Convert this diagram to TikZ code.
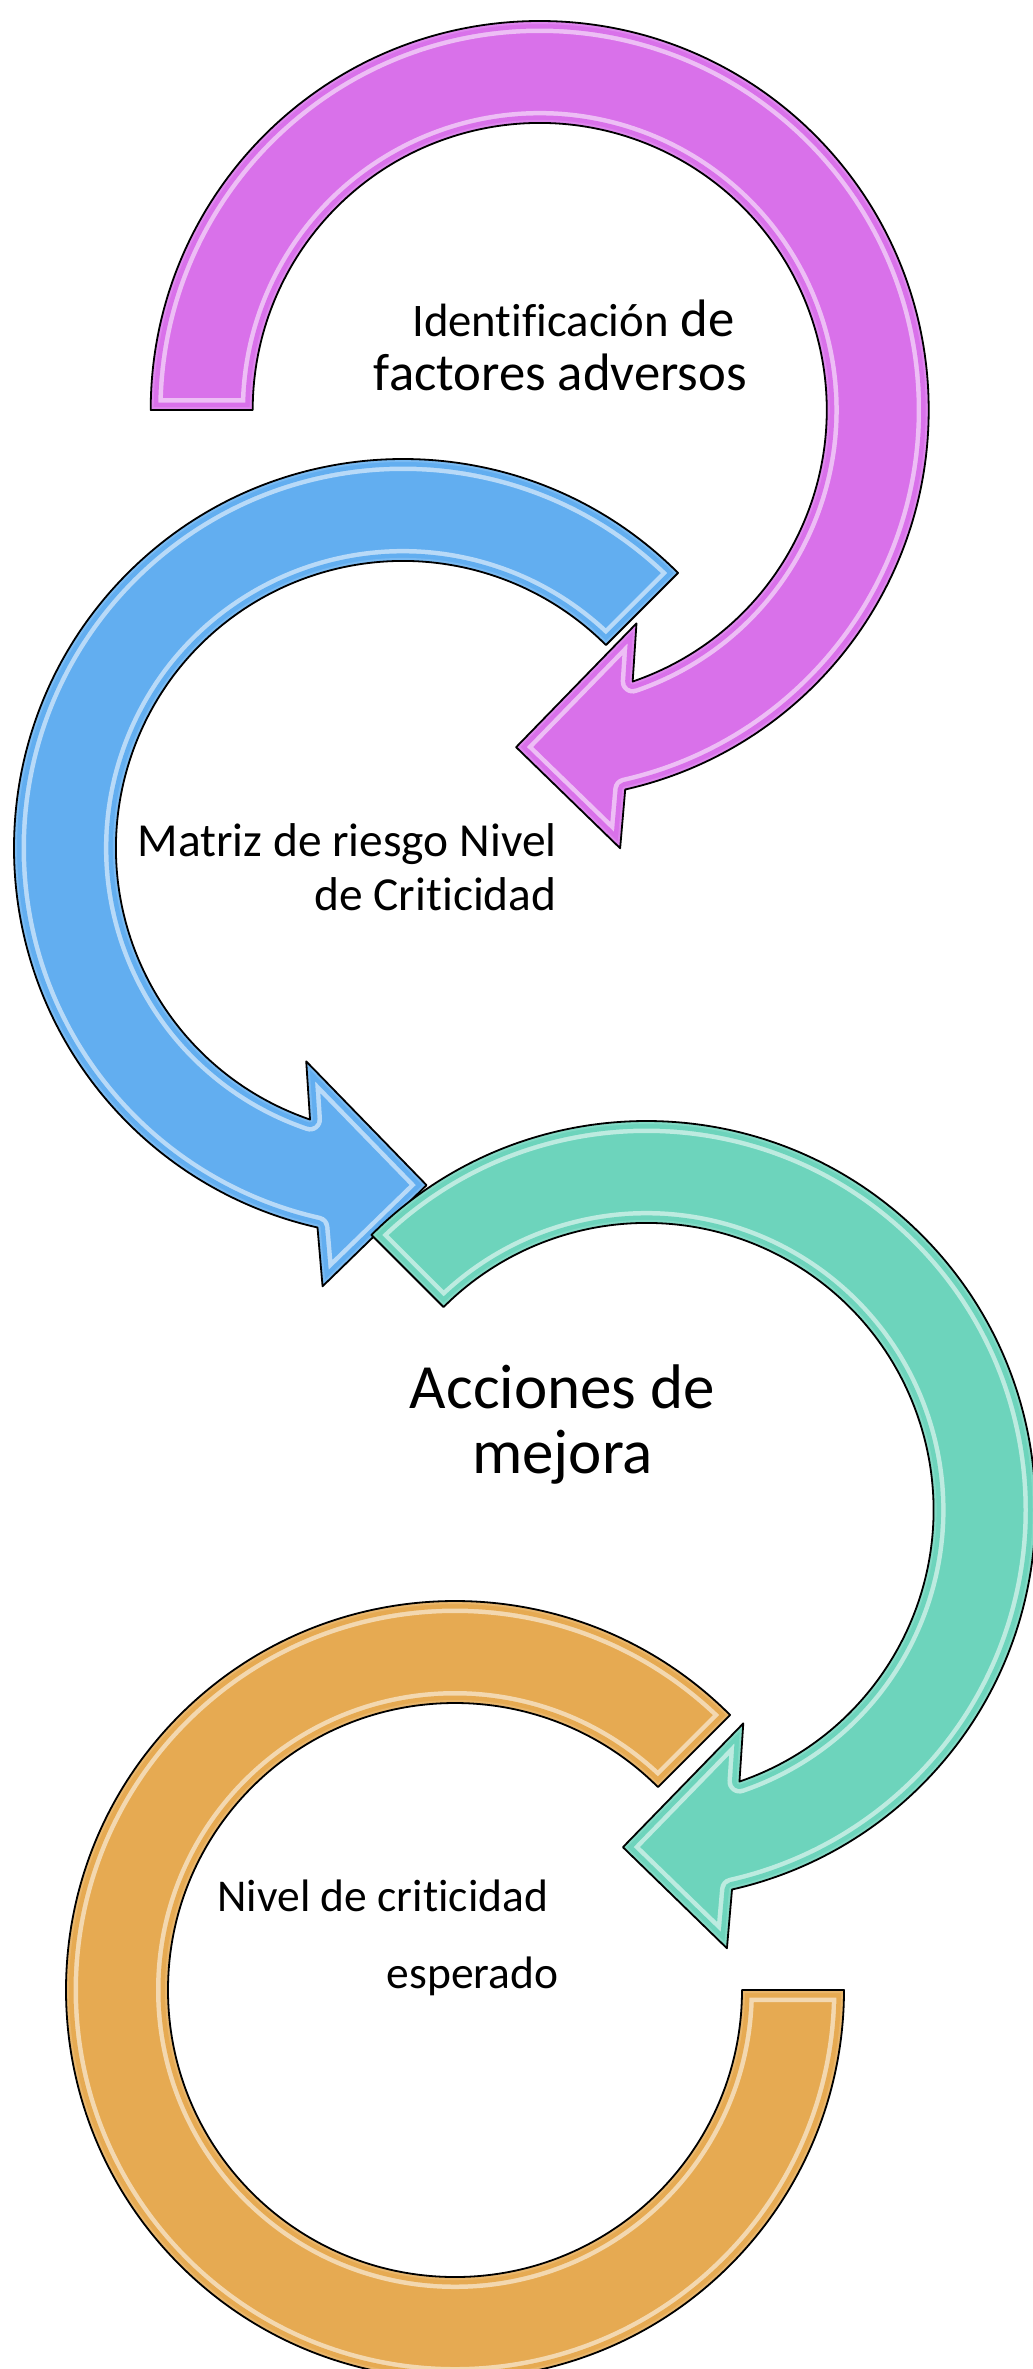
\documentclass[tikz,border=0pt]{standalone}
\usepackage{fontspec}
\setmainfont{Carlito}[Ligatures={NoCommon}]
\usetikzlibrary{calc}
\definecolor{cpurple}{RGB}{217,113,234}
\definecolor{cblue}{RGB}{98,174,240}
\definecolor{cgreen}{RGB}{109,212,188}
\definecolor{corange}{RGB}{230,170,82}
\newcommand\glossyshape[2]{%
  \fill[#2] #1;
  \begin{scope}
    \clip #1;
    \draw[white, opacity=0.55, line width=24pt, line join=round] #1;
    \draw[#2, line width=15pt, line join=round] #1;
    \draw[white, opacity=0.15, line width=6pt, line join=round] #1;
  \end{scope}
  \draw[black, line width=1.8pt, line join=round] #1;
}
\begin{document}
\begin{tikzpicture}[x=1pt,y=1pt,
  lbl/.style={inner sep=0pt, text=black}]
\useasboundingbox (0,0) rectangle (1033,-2369);
\coordinate (P) at (539.7,-410);
\coordinate (B) at (403,-848);
\coordinate (G) at (646.5,-1510);
\coordinate (O) at (455,-1990);
\def\bluepath{($(B)+(45:389)$) arc[start angle=45, end angle=257.3, radius=389]
  -- ($(B)+(259.6:445.6)$) -- ($(B)+(274:338)$) -- ($(B)+(245.6:234.3)$)
  -- ($(B)+(251.1:287)$) arc[start angle=251.1, end angle=45, radius=287] -- cycle}
\def\purplepath{($(P)+(180:389)$) arc[start angle=180, end angle=-77.3, radius=389]
  -- ($(P)+(-79.6:445.6)$) -- ($(P)+(-94:338)$) -- ($(P)+(-65.6:234.3)$)
  -- ($(P)+(-71.1:287)$) arc[start angle=-71.1, end angle=180, radius=287] -- cycle}
\def\greenpath{($(G)+(135:389)$) arc[start angle=135, end angle=-77.3, radius=389]
  -- ($(G)+(-79.6:445.6)$) -- ($(G)+(-94:338)$) -- ($(G)+(-65.6:234.3)$)
  -- ($(G)+(-71.1:287)$) arc[start angle=-71.1, end angle=135, radius=287] -- cycle}
\def\orangepath{($(O)+(45:389)$) arc[start angle=45, end angle=360, radius=389]
  -- ($(O)+(0:287)$) arc[start angle=360, end angle=45, radius=287] -- cycle}
\glossyshape{\bluepath}{cblue}
\glossyshape{\purplepath}{cpurple}
\glossyshape{\orangepath}{corange}
\glossyshape{\greenpath}{cgreen}
\node[lbl, align=right, anchor=base east, font=\fontsize{52.7}{53.3}\selectfont]
  (t1) at (747,-390) {{\fontsize{46.7}{53.3}\selectfont Identificación} de\hspace*{12.3pt}\\factores adversos};
\node[lbl, align=right, anchor=base east, font=\fontsize{47.4}{53.3}\selectfont]
  (t2) at (556.7,-910) {Matriz de riesgo Nivel\\de Criticidad};
\node[lbl, align=center, anchor=base, font=\fontsize{63}{65}\selectfont]
  (t3) at (562.5,-1473.3) {Acciones de\\mejora};
\node[lbl, align=right, anchor=base east, font=\fontsize{45.5}{76.5}\selectfont]
  (t4) at (558.8,-1988) {Nivel de criticidad\hspace*{10.5pt}\\esperado};
\end{tikzpicture}
\end{document}
